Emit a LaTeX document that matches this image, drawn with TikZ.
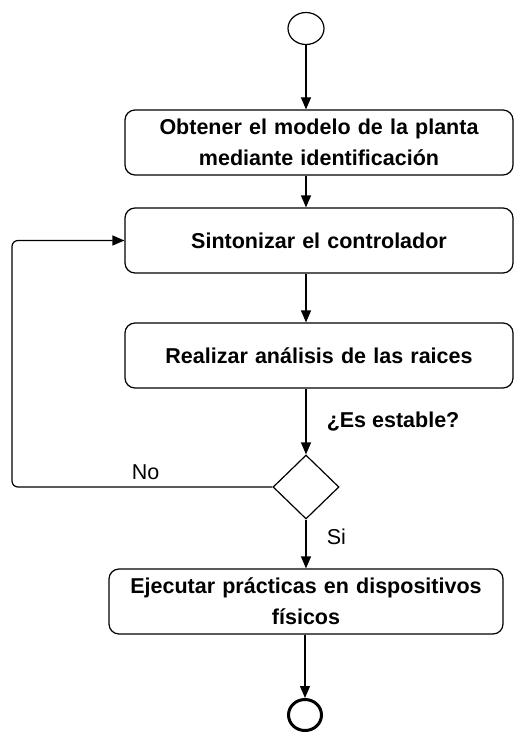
\documentclass[tikz,border=0pt]{standalone}
\usepackage{fontspec}
\setmainfont{Liberation Sans}
\usetikzlibrary{shapes,arrows.meta}
\usetikzlibrary{positioning}
\usetikzlibrary{calc}
\tikzstyle{actionNode} = [rectangle, draw, line width=1.2pt, rounded corners=10pt, text width=372pt, text centered, minimum width=388pt, minimum height=65pt, inner sep=0pt, font=\bfseries]
\tikzstyle{flowArrow} = [draw, line width=1.2pt, -{Triangle[length=12pt, width=10pt]}]

\begin{document}
\fontsize{21.5}{31}\selectfont
\begin{tikzpicture}[x=1pt, y=-1pt]
	\useasboundingbox (0,0) rectangle (515,733);

	\node[ellipse, draw, line width=1.2pt, minimum width=36pt, minimum height=32pt, inner sep=0pt](Start) at (306,28.5){};

	\node[actionNode](Obtener) at (319,142.5){Obtener el modelo de la planta\\mediante identificación};

	\node[actionNode]at([yshift=-98pt]Obtener.center)(Sintonizar){Sintonizar el controlador};

	\node[actionNode]at([yshift=-115pt]Sintonizar.center)(Realizar){Realizar análisis de las raices};

	\node[diamond, draw, line width=1.2pt, minimum width=66pt, minimum height=64pt, inner sep=0pt](Decision) at (306,487){};

	\node[actionNode, minimum width=394pt](Ejecutar) at (306,601.5){Ejecutar prácticas en dispositivos\\físicos};

	\node[ellipse, draw, line width=3pt, minimum width=33pt, minimum height=31pt, inner sep=0pt](End) at (305,715){};

	\coordinate (Loop-X) at (12,0);

	\draw[flowArrow] (Start.south) -- (Start.south |- Obtener.north);
	\draw[flowArrow] (Start |- Obtener.south) -- (Start |- Sintonizar.north);
	\draw[flowArrow] (Start |- Sintonizar.south) -- (Start |- Realizar.north);
	\draw[flowArrow] (Start |- Realizar.south) -- node[anchor=west, xshift=13pt, font=\bfseries]{¿Es estable?} (Decision.north);
	\draw[flowArrow] (Decision.south) -- node[anchor=west, xshift=13pt, yshift=7pt]{Si} (Decision |- Ejecutar.north);
	\draw[flowArrow, rounded corners=6pt] (Decision.west) -- node[above, pos=0.487]{No} (Decision.west -| Loop-X) |- (Sintonizar.west);
	\draw[flowArrow] (End |- Ejecutar.south) -- (End.north);

\end{tikzpicture}
\end{document}
